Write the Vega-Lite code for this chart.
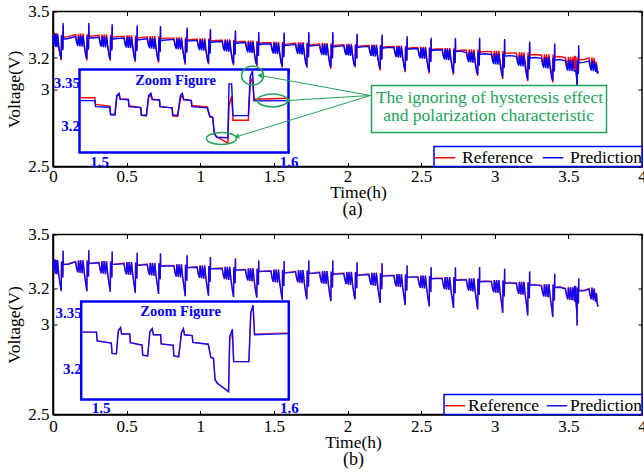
{
"$schema": "https://vega.github.io/schema/vega-lite/v6.json",
"background": "white",
"padding": {"left": 5, "top": 1.5, "right": 0, "bottom": 0},
"datasets": {
"main": [
{"t":0,"r":3.352,"a":3.345,"b":3.350},
{"t":0.006,"r":3.300,"a":3.290,"b":3.300},
{"t":0.010,"r":3.362,"a":3.356,"b":3.362},
{"t":0.016,"r":3.282,"a":3.272,"b":3.282},
{"t":0.020,"r":3.360,"a":3.354,"b":3.360},
{"t":0.027,"r":3.280,"a":3.270,"b":3.280},
{"t":0.031,"r":3.358,"a":3.352,"b":3.358},
{"t":0.039,"r":3.278,"a":3.268,"b":3.278},
{"t":0.049,"r":3.220,"a":3.215,"b":3.220},
{"t":0.056,"r":3.185,"a":3.197,"b":3.185},
{"t":0.058,"r":3.350,"a":3.345,"b":3.350},
{"t":0.060,"r":3.265,"a":3.255,"b":3.265},
{"t":0.067,"r":3.265,"a":3.255,"b":3.265},
{"t":0.069,"r":3.410,"a":3.425,"b":3.410},
{"t":0.070,"r":3.334,"a":3.322,"b":3.334},
{"t":0.104,"r":3.338,"a":3.326,"b":3.335},
{"t":0.153,"r":3.351,"a":3.339,"b":3.348},
{"t":0.161,"r":3.310,"a":3.298,"b":3.310},
{"t":0.169,"r":3.290,"a":3.278,"b":3.290},
{"t":0.173,"r":3.357,"a":3.345,"b":3.357},
{"t":0.183,"r":3.287,"a":3.275,"b":3.287},
{"t":0.188,"r":3.357,"a":3.345,"b":3.357},
{"t":0.198,"r":3.285,"a":3.273,"b":3.285},
{"t":0.204,"r":3.357,"a":3.345,"b":3.357},
{"t":0.213,"r":3.283,"a":3.271,"b":3.283},
{"t":0.223,"r":3.225,"a":3.213,"b":3.225},
{"t":0.230,"r":3.185,"a":3.195,"b":3.185},
{"t":0.232,"r":3.355,"a":3.343,"b":3.355},
{"t":0.234,"r":3.270,"a":3.258,"b":3.270},
{"t":0.241,"r":3.270,"a":3.258,"b":3.270},
{"t":0.243,"r":3.413,"a":3.425,"b":3.413},
{"t":0.244,"r":3.339,"a":3.327,"b":3.339},
{"t":0.278,"r":3.343,"a":3.331,"b":3.340},
{"t":0.312,"r":3.346,"a":3.334,"b":3.343},
{"t":0.320,"r":3.305,"a":3.293,"b":3.305},
{"t":0.328,"r":3.285,"a":3.273,"b":3.285},
{"t":0.332,"r":3.352,"a":3.340,"b":3.352},
{"t":0.342,"r":3.282,"a":3.270,"b":3.282},
{"t":0.347,"r":3.352,"a":3.340,"b":3.352},
{"t":0.357,"r":3.280,"a":3.268,"b":3.280},
{"t":0.363,"r":3.352,"a":3.340,"b":3.352},
{"t":0.372,"r":3.278,"a":3.266,"b":3.278},
{"t":0.382,"r":3.220,"a":3.208,"b":3.220},
{"t":0.389,"r":3.182,"a":3.192,"b":3.182},
{"t":0.391,"r":3.350,"a":3.338,"b":3.350},
{"t":0.393,"r":3.265,"a":3.253,"b":3.265},
{"t":0.400,"r":3.265,"a":3.253,"b":3.265},
{"t":0.402,"r":3.406,"a":3.418,"b":3.406},
{"t":0.403,"r":3.334,"a":3.322,"b":3.334},
{"t":0.437,"r":3.338,"a":3.326,"b":3.335},
{"t":0.482,"r":3.341,"a":3.329,"b":3.338},
{"t":0.490,"r":3.300,"a":3.288,"b":3.300},
{"t":0.498,"r":3.280,"a":3.268,"b":3.280},
{"t":0.502,"r":3.347,"a":3.335,"b":3.347},
{"t":0.512,"r":3.277,"a":3.265,"b":3.277},
{"t":0.517,"r":3.347,"a":3.335,"b":3.347},
{"t":0.527,"r":3.275,"a":3.263,"b":3.275},
{"t":0.533,"r":3.347,"a":3.335,"b":3.347},
{"t":0.542,"r":3.273,"a":3.261,"b":3.273},
{"t":0.552,"r":3.215,"a":3.203,"b":3.215},
{"t":0.559,"r":3.175,"a":3.185,"b":3.175},
{"t":0.561,"r":3.345,"a":3.333,"b":3.345},
{"t":0.563,"r":3.260,"a":3.248,"b":3.260},
{"t":0.570,"r":3.260,"a":3.248,"b":3.260},
{"t":0.572,"r":3.399,"a":3.411,"b":3.399},
{"t":0.573,"r":3.329,"a":3.317,"b":3.329},
{"t":0.607,"r":3.333,"a":3.321,"b":3.330},
{"t":0.640,"r":3.336,"a":3.324,"b":3.333},
{"t":0.648,"r":3.295,"a":3.283,"b":3.295},
{"t":0.656,"r":3.275,"a":3.263,"b":3.275},
{"t":0.660,"r":3.342,"a":3.330,"b":3.342},
{"t":0.670,"r":3.272,"a":3.260,"b":3.272},
{"t":0.675,"r":3.342,"a":3.330,"b":3.342},
{"t":0.685,"r":3.270,"a":3.258,"b":3.270},
{"t":0.691,"r":3.342,"a":3.330,"b":3.342},
{"t":0.700,"r":3.268,"a":3.256,"b":3.268},
{"t":0.710,"r":3.210,"a":3.198,"b":3.210},
{"t":0.717,"r":3.170,"a":3.180,"b":3.170},
{"t":0.719,"r":3.340,"a":3.328,"b":3.340},
{"t":0.721,"r":3.255,"a":3.243,"b":3.255},
{"t":0.728,"r":3.255,"a":3.243,"b":3.255},
{"t":0.730,"r":3.394,"a":3.406,"b":3.394},
{"t":0.731,"r":3.324,"a":3.312,"b":3.324},
{"t":0.765,"r":3.328,"a":3.316,"b":3.325},
{"t":0.821,"r":3.328,"a":3.320,"b":3.325},
{"t":0.829,"r":3.287,"a":3.279,"b":3.287},
{"t":0.837,"r":3.267,"a":3.259,"b":3.267},
{"t":0.841,"r":3.334,"a":3.326,"b":3.334},
{"t":0.851,"r":3.264,"a":3.256,"b":3.264},
{"t":0.856,"r":3.334,"a":3.326,"b":3.334},
{"t":0.866,"r":3.262,"a":3.254,"b":3.262},
{"t":0.872,"r":3.334,"a":3.326,"b":3.334},
{"t":0.881,"r":3.260,"a":3.252,"b":3.260},
{"t":0.891,"r":3.202,"a":3.194,"b":3.202},
{"t":0.898,"r":3.157,"a":3.167,"b":3.157},
{"t":0.900,"r":3.332,"a":3.324,"b":3.332},
{"t":0.902,"r":3.247,"a":3.239,"b":3.247},
{"t":0.909,"r":3.247,"a":3.239,"b":3.247},
{"t":0.911,"r":3.384,"a":3.396,"b":3.384},
{"t":0.912,"r":3.316,"a":3.308,"b":3.316},
{"t":0.946,"r":3.320,"a":3.312,"b":3.317},
{"t":0.979,"r":3.321,"a":3.313,"b":3.318},
{"t":0.987,"r":3.280,"a":3.272,"b":3.280},
{"t":0.995,"r":3.260,"a":3.252,"b":3.260},
{"t":0.999,"r":3.327,"a":3.319,"b":3.327},
{"t":1.009,"r":3.257,"a":3.249,"b":3.257},
{"t":1.014,"r":3.327,"a":3.319,"b":3.327},
{"t":1.024,"r":3.255,"a":3.247,"b":3.255},
{"t":1.030,"r":3.327,"a":3.319,"b":3.327},
{"t":1.039,"r":3.253,"a":3.245,"b":3.253},
{"t":1.049,"r":3.195,"a":3.187,"b":3.195},
{"t":1.056,"r":3.160,"a":3.170,"b":3.160},
{"t":1.058,"r":3.325,"a":3.317,"b":3.325},
{"t":1.060,"r":3.240,"a":3.232,"b":3.240},
{"t":1.067,"r":3.240,"a":3.232,"b":3.240},
{"t":1.069,"r":3.375,"a":3.387,"b":3.375},
{"t":1.070,"r":3.309,"a":3.301,"b":3.309},
{"t":1.104,"r":3.313,"a":3.305,"b":3.310},
{"t":1.149,"r":3.314,"a":3.306,"b":3.311},
{"t":1.157,"r":3.273,"a":3.265,"b":3.273},
{"t":1.165,"r":3.253,"a":3.245,"b":3.253},
{"t":1.169,"r":3.320,"a":3.312,"b":3.320},
{"t":1.179,"r":3.250,"a":3.242,"b":3.250},
{"t":1.184,"r":3.320,"a":3.312,"b":3.320},
{"t":1.194,"r":3.248,"a":3.240,"b":3.248},
{"t":1.200,"r":3.320,"a":3.312,"b":3.320},
{"t":1.209,"r":3.246,"a":3.238,"b":3.246},
{"t":1.219,"r":3.188,"a":3.180,"b":3.188},
{"t":1.226,"r":3.153,"a":3.163,"b":3.153},
{"t":1.228,"r":3.318,"a":3.310,"b":3.318},
{"t":1.230,"r":3.233,"a":3.225,"b":3.233},
{"t":1.237,"r":3.233,"a":3.225,"b":3.233},
{"t":1.239,"r":3.366,"a":3.378,"b":3.366},
{"t":1.240,"r":3.302,"a":3.294,"b":3.302},
{"t":1.274,"r":3.306,"a":3.298,"b":3.303},
{"t":1.307,"r":3.306,"a":3.298,"b":3.303},
{"t":1.315,"r":3.265,"a":3.257,"b":3.265},
{"t":1.323,"r":3.245,"a":3.237,"b":3.245},
{"t":1.327,"r":3.312,"a":3.304,"b":3.312},
{"t":1.337,"r":3.242,"a":3.234,"b":3.242},
{"t":1.342,"r":3.312,"a":3.304,"b":3.312},
{"t":1.352,"r":3.240,"a":3.232,"b":3.240},
{"t":1.358,"r":3.312,"a":3.304,"b":3.312},
{"t":1.367,"r":3.238,"a":3.230,"b":3.238},
{"t":1.377,"r":3.180,"a":3.172,"b":3.180},
{"t":1.384,"r":3.150,"a":3.160,"b":3.150},
{"t":1.386,"r":3.310,"a":3.302,"b":3.310},
{"t":1.388,"r":3.225,"a":3.217,"b":3.225},
{"t":1.395,"r":3.225,"a":3.217,"b":3.225},
{"t":1.397,"r":3.356,"a":3.368,"b":3.356},
{"t":1.398,"r":3.294,"a":3.286,"b":3.294},
{"t":1.432,"r":3.298,"a":3.290,"b":3.295},
{"t":1.480,"r":3.299,"a":3.291,"b":3.296},
{"t":1.488,"r":3.258,"a":3.250,"b":3.258},
{"t":1.496,"r":3.238,"a":3.230,"b":3.238},
{"t":1.500,"r":3.305,"a":3.297,"b":3.305},
{"t":1.510,"r":3.235,"a":3.227,"b":3.235},
{"t":1.515,"r":3.305,"a":3.297,"b":3.305},
{"t":1.525,"r":3.233,"a":3.225,"b":3.233},
{"t":1.531,"r":3.305,"a":3.297,"b":3.305},
{"t":1.540,"r":3.231,"a":3.223,"b":3.231},
{"t":1.550,"r":3.173,"a":3.165,"b":3.173},
{"t":1.557,"r":3.138,"a":3.148,"b":3.138},
{"t":1.559,"r":3.303,"a":3.295,"b":3.303},
{"t":1.561,"r":3.218,"a":3.210,"b":3.218},
{"t":1.568,"r":3.218,"a":3.210,"b":3.218},
{"t":1.570,"r":3.353,"a":3.365,"b":3.353},
{"t":1.571,"r":3.287,"a":3.279,"b":3.287},
{"t":1.605,"r":3.291,"a":3.283,"b":3.288},
{"t":1.647,"r":3.296,"a":3.288,"b":3.293},
{"t":1.655,"r":3.255,"a":3.247,"b":3.255},
{"t":1.663,"r":3.235,"a":3.227,"b":3.235},
{"t":1.667,"r":3.302,"a":3.294,"b":3.302},
{"t":1.677,"r":3.232,"a":3.224,"b":3.232},
{"t":1.682,"r":3.302,"a":3.294,"b":3.302},
{"t":1.692,"r":3.230,"a":3.222,"b":3.230},
{"t":1.698,"r":3.302,"a":3.294,"b":3.302},
{"t":1.707,"r":3.228,"a":3.220,"b":3.228},
{"t":1.717,"r":3.170,"a":3.162,"b":3.170},
{"t":1.724,"r":3.140,"a":3.150,"b":3.140},
{"t":1.726,"r":3.300,"a":3.292,"b":3.300},
{"t":1.728,"r":3.215,"a":3.207,"b":3.215},
{"t":1.735,"r":3.215,"a":3.207,"b":3.215},
{"t":1.737,"r":3.355,"a":3.367,"b":3.355},
{"t":1.738,"r":3.284,"a":3.276,"b":3.284},
{"t":1.772,"r":3.288,"a":3.280,"b":3.285},
{"t":1.810,"r":3.291,"a":3.283,"b":3.288},
{"t":1.818,"r":3.250,"a":3.242,"b":3.250},
{"t":1.826,"r":3.230,"a":3.222,"b":3.230},
{"t":1.830,"r":3.297,"a":3.289,"b":3.297},
{"t":1.840,"r":3.227,"a":3.219,"b":3.227},
{"t":1.845,"r":3.297,"a":3.289,"b":3.297},
{"t":1.855,"r":3.225,"a":3.217,"b":3.225},
{"t":1.861,"r":3.297,"a":3.289,"b":3.297},
{"t":1.870,"r":3.223,"a":3.215,"b":3.223},
{"t":1.880,"r":3.165,"a":3.157,"b":3.165},
{"t":1.887,"r":3.130,"a":3.140,"b":3.130},
{"t":1.889,"r":3.295,"a":3.287,"b":3.295},
{"t":1.891,"r":3.210,"a":3.202,"b":3.210},
{"t":1.898,"r":3.210,"a":3.202,"b":3.210},
{"t":1.900,"r":3.355,"a":3.367,"b":3.355},
{"t":1.901,"r":3.279,"a":3.271,"b":3.279},
{"t":1.935,"r":3.283,"a":3.275,"b":3.280},
{"t":1.975,"r":3.286,"a":3.280,"b":3.283},
{"t":1.983,"r":3.245,"a":3.239,"b":3.245},
{"t":1.991,"r":3.225,"a":3.219,"b":3.225},
{"t":1.995,"r":3.292,"a":3.286,"b":3.292},
{"t":2.005,"r":3.222,"a":3.216,"b":3.222},
{"t":2.010,"r":3.292,"a":3.286,"b":3.292},
{"t":2.020,"r":3.220,"a":3.214,"b":3.220},
{"t":2.026,"r":3.292,"a":3.286,"b":3.292},
{"t":2.035,"r":3.218,"a":3.212,"b":3.218},
{"t":2.045,"r":3.160,"a":3.154,"b":3.160},
{"t":2.052,"r":3.140,"a":3.150,"b":3.140},
{"t":2.054,"r":3.290,"a":3.284,"b":3.290},
{"t":2.056,"r":3.205,"a":3.199,"b":3.205},
{"t":2.063,"r":3.205,"a":3.199,"b":3.205},
{"t":2.065,"r":3.345,"a":3.357,"b":3.345},
{"t":2.066,"r":3.274,"a":3.268,"b":3.274},
{"t":2.100,"r":3.278,"a":3.272,"b":3.275},
{"t":2.145,"r":3.281,"a":3.275,"b":3.278},
{"t":2.153,"r":3.240,"a":3.234,"b":3.240},
{"t":2.161,"r":3.220,"a":3.214,"b":3.220},
{"t":2.165,"r":3.287,"a":3.281,"b":3.287},
{"t":2.175,"r":3.217,"a":3.211,"b":3.217},
{"t":2.180,"r":3.287,"a":3.281,"b":3.287},
{"t":2.190,"r":3.215,"a":3.209,"b":3.215},
{"t":2.196,"r":3.287,"a":3.281,"b":3.287},
{"t":2.205,"r":3.213,"a":3.207,"b":3.213},
{"t":2.215,"r":3.155,"a":3.149,"b":3.155},
{"t":2.222,"r":3.120,"a":3.130,"b":3.120},
{"t":2.224,"r":3.285,"a":3.279,"b":3.285},
{"t":2.226,"r":3.200,"a":3.194,"b":3.200},
{"t":2.233,"r":3.200,"a":3.194,"b":3.200},
{"t":2.235,"r":3.340,"a":3.352,"b":3.340},
{"t":2.236,"r":3.269,"a":3.263,"b":3.269},
{"t":2.270,"r":3.273,"a":3.267,"b":3.270},
{"t":2.315,"r":3.274,"a":3.268,"b":3.271},
{"t":2.323,"r":3.233,"a":3.227,"b":3.233},
{"t":2.331,"r":3.213,"a":3.207,"b":3.213},
{"t":2.335,"r":3.280,"a":3.274,"b":3.280},
{"t":2.345,"r":3.210,"a":3.204,"b":3.210},
{"t":2.350,"r":3.280,"a":3.274,"b":3.280},
{"t":2.360,"r":3.208,"a":3.202,"b":3.208},
{"t":2.366,"r":3.280,"a":3.274,"b":3.280},
{"t":2.375,"r":3.206,"a":3.200,"b":3.206},
{"t":2.385,"r":3.148,"a":3.142,"b":3.148},
{"t":2.392,"r":3.108,"a":3.118,"b":3.108},
{"t":2.394,"r":3.278,"a":3.272,"b":3.278},
{"t":2.396,"r":3.193,"a":3.187,"b":3.193},
{"t":2.403,"r":3.193,"a":3.187,"b":3.193},
{"t":2.405,"r":3.328,"a":3.340,"b":3.328},
{"t":2.406,"r":3.262,"a":3.256,"b":3.262},
{"t":2.440,"r":3.266,"a":3.260,"b":3.263},
{"t":2.478,"r":3.266,"a":3.260,"b":3.263},
{"t":2.486,"r":3.225,"a":3.219,"b":3.225},
{"t":2.494,"r":3.205,"a":3.199,"b":3.205},
{"t":2.498,"r":3.272,"a":3.266,"b":3.272},
{"t":2.508,"r":3.202,"a":3.196,"b":3.202},
{"t":2.513,"r":3.272,"a":3.266,"b":3.272},
{"t":2.523,"r":3.200,"a":3.194,"b":3.200},
{"t":2.529,"r":3.272,"a":3.266,"b":3.272},
{"t":2.538,"r":3.198,"a":3.192,"b":3.198},
{"t":2.548,"r":3.140,"a":3.134,"b":3.140},
{"t":2.555,"r":3.100,"a":3.110,"b":3.100},
{"t":2.557,"r":3.270,"a":3.264,"b":3.270},
{"t":2.559,"r":3.185,"a":3.179,"b":3.185},
{"t":2.566,"r":3.185,"a":3.179,"b":3.185},
{"t":2.568,"r":3.318,"a":3.330,"b":3.318},
{"t":2.569,"r":3.254,"a":3.248,"b":3.254},
{"t":2.603,"r":3.258,"a":3.252,"b":3.255},
{"t":2.643,"r":3.258,"a":3.252,"b":3.255},
{"t":2.651,"r":3.217,"a":3.211,"b":3.217},
{"t":2.659,"r":3.197,"a":3.191,"b":3.197},
{"t":2.663,"r":3.264,"a":3.258,"b":3.264},
{"t":2.673,"r":3.194,"a":3.188,"b":3.194},
{"t":2.678,"r":3.264,"a":3.258,"b":3.264},
{"t":2.688,"r":3.192,"a":3.186,"b":3.192},
{"t":2.694,"r":3.264,"a":3.258,"b":3.264},
{"t":2.703,"r":3.190,"a":3.184,"b":3.190},
{"t":2.713,"r":3.132,"a":3.126,"b":3.132},
{"t":2.720,"r":3.092,"a":3.102,"b":3.092},
{"t":2.722,"r":3.262,"a":3.256,"b":3.262},
{"t":2.724,"r":3.177,"a":3.171,"b":3.177},
{"t":2.731,"r":3.177,"a":3.171,"b":3.177},
{"t":2.733,"r":3.317,"a":3.329,"b":3.317},
{"t":2.734,"r":3.246,"a":3.240,"b":3.246},
{"t":2.768,"r":3.250,"a":3.244,"b":3.247},
{"t":2.807,"r":3.250,"a":3.235,"b":3.247},
{"t":2.815,"r":3.209,"a":3.194,"b":3.209},
{"t":2.823,"r":3.189,"a":3.174,"b":3.189},
{"t":2.827,"r":3.256,"a":3.241,"b":3.256},
{"t":2.837,"r":3.186,"a":3.171,"b":3.186},
{"t":2.842,"r":3.256,"a":3.241,"b":3.256},
{"t":2.852,"r":3.184,"a":3.169,"b":3.184},
{"t":2.858,"r":3.256,"a":3.241,"b":3.256},
{"t":2.867,"r":3.182,"a":3.167,"b":3.182},
{"t":2.877,"r":3.124,"a":3.109,"b":3.124},
{"t":2.884,"r":3.084,"a":3.094,"b":3.084},
{"t":2.886,"r":3.254,"a":3.239,"b":3.254},
{"t":2.888,"r":3.169,"a":3.154,"b":3.169},
{"t":2.895,"r":3.169,"a":3.154,"b":3.169},
{"t":2.897,"r":3.319,"a":3.331,"b":3.319},
{"t":2.898,"r":3.238,"a":3.223,"b":3.238},
{"t":2.932,"r":3.242,"a":3.227,"b":3.239},
{"t":2.977,"r":3.241,"a":3.223,"b":3.238},
{"t":2.985,"r":3.200,"a":3.182,"b":3.200},
{"t":2.993,"r":3.180,"a":3.162,"b":3.180},
{"t":2.997,"r":3.247,"a":3.229,"b":3.247},
{"t":3.007,"r":3.177,"a":3.159,"b":3.177},
{"t":3.012,"r":3.247,"a":3.229,"b":3.247},
{"t":3.022,"r":3.175,"a":3.157,"b":3.175},
{"t":3.028,"r":3.247,"a":3.229,"b":3.247},
{"t":3.037,"r":3.173,"a":3.155,"b":3.173},
{"t":3.047,"r":3.115,"a":3.097,"b":3.115},
{"t":3.054,"r":3.065,"a":3.075,"b":3.065},
{"t":3.056,"r":3.245,"a":3.227,"b":3.245},
{"t":3.058,"r":3.160,"a":3.142,"b":3.160},
{"t":3.065,"r":3.160,"a":3.142,"b":3.160},
{"t":3.067,"r":3.310,"a":3.322,"b":3.310},
{"t":3.068,"r":3.229,"a":3.211,"b":3.229},
{"t":3.102,"r":3.233,"a":3.215,"b":3.230},
{"t":3.147,"r":3.231,"a":3.211,"b":3.228},
{"t":3.155,"r":3.190,"a":3.170,"b":3.190},
{"t":3.163,"r":3.170,"a":3.150,"b":3.170},
{"t":3.167,"r":3.237,"a":3.217,"b":3.237},
{"t":3.177,"r":3.167,"a":3.147,"b":3.167},
{"t":3.182,"r":3.237,"a":3.217,"b":3.237},
{"t":3.192,"r":3.165,"a":3.145,"b":3.165},
{"t":3.198,"r":3.237,"a":3.217,"b":3.237},
{"t":3.207,"r":3.163,"a":3.143,"b":3.163},
{"t":3.217,"r":3.105,"a":3.085,"b":3.105},
{"t":3.224,"r":3.050,"a":3.060,"b":3.050},
{"t":3.226,"r":3.235,"a":3.215,"b":3.235},
{"t":3.228,"r":3.150,"a":3.130,"b":3.150},
{"t":3.235,"r":3.150,"a":3.130,"b":3.150},
{"t":3.237,"r":3.295,"a":3.307,"b":3.295},
{"t":3.238,"r":3.219,"a":3.199,"b":3.219},
{"t":3.272,"r":3.223,"a":3.203,"b":3.220},
{"t":3.317,"r":3.218,"a":3.198,"b":3.215},
{"t":3.325,"r":3.177,"a":3.157,"b":3.177},
{"t":3.333,"r":3.157,"a":3.137,"b":3.157},
{"t":3.337,"r":3.224,"a":3.204,"b":3.224},
{"t":3.347,"r":3.154,"a":3.134,"b":3.154},
{"t":3.352,"r":3.224,"a":3.204,"b":3.224},
{"t":3.362,"r":3.152,"a":3.132,"b":3.152},
{"t":3.368,"r":3.224,"a":3.204,"b":3.224},
{"t":3.377,"r":3.150,"a":3.130,"b":3.150},
{"t":3.387,"r":3.092,"a":3.072,"b":3.092},
{"t":3.394,"r":3.042,"a":3.052,"b":3.042},
{"t":3.396,"r":3.222,"a":3.202,"b":3.222},
{"t":3.398,"r":3.137,"a":3.117,"b":3.137},
{"t":3.405,"r":3.137,"a":3.117,"b":3.137},
{"t":3.407,"r":3.282,"a":3.294,"b":3.282},
{"t":3.408,"r":3.206,"a":3.186,"b":3.206},
{"t":3.442,"r":3.210,"a":3.190,"b":3.207},
{"t":3.480,"r":3.201,"a":3.181,"b":3.198},
{"t":3.488,"r":3.160,"a":3.140,"b":3.160},
{"t":3.496,"r":3.140,"a":3.120,"b":3.140},
{"t":3.500,"r":3.207,"a":3.187,"b":3.207},
{"t":3.510,"r":3.137,"a":3.117,"b":3.137},
{"t":3.515,"r":3.207,"a":3.187,"b":3.207},
{"t":3.525,"r":3.135,"a":3.115,"b":3.135},
{"t":3.531,"r":3.207,"a":3.187,"b":3.207},
{"t":3.540,"r":3.133,"a":3.113,"b":3.133},
{"t":3.543,"r":3.215,"a":3.120,"b":3.215},
{"t":3.546,"r":3.125,"a":3.118,"b":3.125},
{"t":3.549,"r":3.212,"a":3.115,"b":3.212},
{"t":3.552,"r":3.120,"a":3.110,"b":3.120},
{"t":3.557,"r":3.075,"a":3.060,"b":3.075},
{"t":3.559,"r":2.995,"a":3.025,"b":2.995},
{"t":3.561,"r":3.205,"a":3.185,"b":3.205},
{"t":3.563,"r":3.120,"a":3.100,"b":3.120},
{"t":3.568,"r":3.120,"a":3.100,"b":3.120},
{"t":3.570,"r":3.255,"a":3.282,"b":3.255},
{"t":3.571,"r":3.189,"a":3.169,"b":3.189},
{"t":3.605,"r":3.190,"a":3.172,"b":3.187},
{"t":3.640,"r":3.200,"a":3.182,"b":3.197},
{"t":3.648,"r":3.160,"a":3.140,"b":3.160},
{"t":3.656,"r":3.140,"a":3.120,"b":3.140},
{"t":3.660,"r":3.205,"a":3.185,"b":3.205},
{"t":3.670,"r":3.135,"a":3.115,"b":3.135},
{"t":3.675,"r":3.200,"a":3.180,"b":3.200},
{"t":3.685,"r":3.125,"a":3.110,"b":3.125},
{"t":3.690,"r":3.175,"a":3.160,"b":3.175},
{"t":3.697,"r":3.110,"a":3.100,"b":3.110},
{"t":3.703,"r":3.100,"a":3.115,"b":3.100}
],
"zoom": [
{"t":1.4902,"r":3.297,"a":3.287,"b":3.297},
{"t":1.4978,"r":3.297,"a":3.287,"b":3.297},
{"t":1.4982,"r":3.274,"a":3.266,"b":3.274},
{"t":1.5057,"r":3.268,"a":3.264,"b":3.268},
{"t":1.5061,"r":3.241,"a":3.238,"b":3.241},
{"t":1.5084,"r":3.240,"a":3.237,"b":3.240},
{"t":1.5094,"r":3.300,"a":3.305,"b":3.300},
{"t":1.5106,"r":3.309,"a":3.312,"b":3.309},
{"t":1.5112,"r":3.292,"a":3.292,"b":3.292},
{"t":1.5155,"r":3.292,"a":3.290,"b":3.292},
{"t":1.5158,"r":3.269,"a":3.266,"b":3.269},
{"t":1.5220,"r":3.263,"a":3.263,"b":3.263},
{"t":1.5224,"r":3.236,"a":3.236,"b":3.236},
{"t":1.5250,"r":3.234,"a":3.236,"b":3.234},
{"t":1.5262,"r":3.298,"a":3.305,"b":3.298},
{"t":1.5274,"r":3.306,"a":3.312,"b":3.306},
{"t":1.5281,"r":3.290,"a":3.292,"b":3.290},
{"t":1.5319,"r":3.290,"a":3.289,"b":3.290},
{"t":1.5322,"r":3.266,"a":3.266,"b":3.266},
{"t":1.5386,"r":3.262,"a":3.262,"b":3.262},
{"t":1.5389,"r":3.234,"a":3.236,"b":3.234},
{"t":1.5415,"r":3.232,"a":3.236,"b":3.232},
{"t":1.5430,"r":3.296,"a":3.305,"b":3.296},
{"t":1.5440,"r":3.306,"a":3.312,"b":3.306},
{"t":1.5446,"r":3.290,"a":3.292,"b":3.290},
{"t":1.5487,"r":3.288,"a":3.286,"b":3.288},
{"t":1.5490,"r":3.270,"a":3.266,"b":3.270},
{"t":1.5572,"r":3.265,"a":3.262,"b":3.265},
{"t":1.5580,"r":3.245,"a":3.240,"b":3.245},
{"t":1.5586,"r":3.230,"a":3.232,"b":3.230},
{"t":1.5600,"r":3.228,"a":3.230,"b":3.228},
{"t":1.5608,"r":3.172,"a":3.178,"b":3.172},
{"t":1.5620,"r":3.162,"a":3.160,"b":3.162},
{"t":1.5680,"r":3.140,"a":3.158,"b":3.140},
{"t":1.5686,"r":3.270,"a":3.345,"b":3.285},
{"t":1.5700,"r":3.302,"a":3.345,"b":3.305},
{"t":1.5707,"r":3.219,"a":3.235,"b":3.219},
{"t":1.5788,"r":3.219,"a":3.235,"b":3.219},
{"t":1.5798,"r":3.345,"a":3.370,"b":3.350},
{"t":1.5810,"r":3.368,"a":3.390,"b":3.368},
{"t":1.5818,"r":3.292,"a":3.286,"b":3.290},
{"t":1.6000,"r":3.295,"a":3.287,"b":3.293}
]
},
"vconcat": [
{
"width": 589, "height": 155,
"title": {"text": "(a)", "orient": "bottom", "fontSize": 18, "font": "Liberation Serif", "fontWeight": "normal", "offset": 0, "dx": 5, "color": "black"},
"layer": [
{"data": {"name": "main"}, "mark": {"type": "line", "strokeWidth": 1.4},
"encoding": {
"x": {"field": "t", "type": "quantitative", "scale": {"domain": [0, 4], "nice": false}, "axis": {"values": [0, 0.5, 1, 1.5, 2, 2.5, 3, 3.5, 4], "format": ".3~g", "title": "Time(h)", "tickSize": -4, "labelPadding": 6, "titlePadding": -1, "titleX": 305}},
"y": {"field": "r", "type": "quantitative", "scale": {"domain": [2.5, 3.5], "nice": false, "zero": false}, "axis": {"values": [2.5, 3, 3.2, 3.5], "format": ".3~g", "title": "Voltage(V)", "tickSize": -4, "labelPadding": 8, "titlePadding": 4}},
"color": {"datum": "Reference", "scale": {"domain": ["Reference", "Prediction"], "range": ["#ff0000", "#0000ff"]},
"legend": {"title": null, "orient": "bottom-right", "direction": "horizontal", "offset": 0, "padding": 0, "strokeColor": "#0000ff", "fillColor": "white", "symbolType": "stroke", "symbolSize": 420, "symbolStrokeWidth": 1.5, "labelFont": "Liberation Serif", "labelFontSize": 17.5, "labelColor": "black", "labelOffset": 6, "columnPadding": 6, "labelLimit": 300}}
}},
{"data": {"name": "main"}, "mark": {"type": "line", "strokeWidth": 1.4},
"encoding": {
"x": {"field": "t", "type": "quantitative", "scale": {"domain": [0, 4], "nice": false}, "axis": {"orient": "top", "values": [0, 0.5, 1, 1.5, 2, 2.5, 3, 3.5, 4], "labels": false, "domain": false, "tickSize": -4, "title": null}},
"y": {"field": "a", "type": "quantitative", "scale": {"domain": [2.5, 3.5], "nice": false, "zero": false}, "axis": {"orient": "right", "values": [2.5, 3, 3.2, 3.5], "labels": false, "domain": false, "tickSize": -4, "title": null}},
"color": {"datum": "Prediction"}
}},
{"data": {"values": [{}]},
"mark": {"type": "rect", "fill": "white", "stroke": "#0000ff", "strokeWidth": 2.5},
"encoding": {
"x": {"datum": 1.4897, "type": "quantitative", "scale": {"domain": [1.4897, 1.6], "range": [26.5, 235.5], "nice": false, "zero": false}, "axis": {"orient": "bottom", "offset": -14, "values": [1.5, 1.6], "format": ".3~g", "domain": false, "tickSize": -4, "tickColor": "#0000ff", "labelPadding": 6, "labelColor": "#0000ff", "labelFontWeight": "bold", "labelFontSize": 15, "title": null}},
"x2": {"datum": 1.6},
"y": {"datum": 3.107, "type": "quantitative", "scale": {"domain": [3.107, 3.395], "range": [141, 58], "nice": false, "zero": false}, "axis": {"orient": "left", "offset": -26.5, "values": [3.2, 3.35], "format": ".3~g", "domain": false, "tickSize": -4, "tickColor": "#0000ff", "labelPadding": 4, "labelColor": "#0000ff", "labelFontWeight": "bold", "labelFontSize": 15, "title": null}},
"y2": {"datum": 3.395}
}},
{"data": {"name": "zoom"}, "mark": {"type": "line", "strokeWidth": 1.4},
"encoding": {
"x": {"field": "t", "type": "quantitative", "scale": {"domain": [1.4897, 1.6], "range": [26.5, 235.5], "nice": false, "zero": false}, "axis": {"orient": "top", "offset": -58, "values": [1.5, 1.6], "labels": false, "domain": false, "tickSize": -4, "tickColor": "#0000ff", "title": null}},
"y": {"field": "r", "type": "quantitative", "scale": {"domain": [3.107, 3.395], "range": [141, 58], "nice": false, "zero": false}, "axis": {"orient": "right", "offset": -353.5, "values": [3.2, 3.35], "labels": false, "domain": false, "tickSize": -4, "tickColor": "#0000ff", "title": null}},
"color": {"datum": "Reference"}
}},
{"data": {"name": "zoom"}, "mark": {"type": "line", "strokeWidth": 1.4},
"encoding": {
"x": {"field": "t", "type": "quantitative", "scale": {"domain": [1.4897, 1.6], "range": [26.5, 235.5], "nice": false, "zero": false}, "axis": null},
"y": {"field": "a", "type": "quantitative", "scale": {"domain": [3.107, 3.395], "range": [141, 58], "nice": false, "zero": false}, "axis": null},
"color": {"datum": "Prediction"}
}},
{"data": {"values": [{}]}, "mark": {"type": "rect", "fill": "white", "stroke": "#22a35a", "strokeWidth": 1.5},
"encoding": {
"x": {"datum": 2.163, "type": "quantitative", "scale": {"domain": [0, 4], "nice": false}, "axis": null},
"x2": {"datum": 3.759},
"y": {"datum": 3.0226, "type": "quantitative", "scale": {"domain": [2.5, 3.5], "nice": false, "zero": false}, "axis": null},
"y2": {"datum": 2.719}
}},
{"data": {"values": [{}]}, "mark": {"type": "text", "text": "The ignoring of hysteresis effect", "font": "Liberation Serif", "fontSize": 17.5, "color": "#22a35a"},
"encoding": {
"x": {"datum": 2.964, "type": "quantitative", "scale": {"domain": [0, 4], "nice": false}, "axis": null},
"y": {"datum": 2.945, "type": "quantitative", "scale": {"domain": [2.5, 3.5], "nice": false, "zero": false}, "axis": null}
}},
{"data": {"values": [{}]}, "mark": {"type": "text", "text": "and polarization characteristic", "font": "Liberation Serif", "fontSize": 17.5, "color": "#22a35a"},
"encoding": {
"x": {"datum": 2.958, "type": "quantitative", "scale": {"domain": [0, 4], "nice": false}, "axis": null},
"y": {"datum": 2.823, "type": "quantitative", "scale": {"domain": [2.5, 3.5], "nice": false, "zero": false}, "axis": null}
}},
{"data": {"values": [{}]}, "mark": {"type": "rule", "color": "#22a35a", "strokeWidth": 1},
"encoding": {
"x": {"datum": 2.156, "type": "quantitative", "scale": {"domain": [0, 4], "nice": false}, "axis": null},
"y": {"datum": 2.958, "type": "quantitative", "scale": {"domain": [2.5, 3.5], "nice": false, "zero": false}, "axis": null},
"x2": {"datum": 1.409}, "y2": {"datum": 3.087}
}},
{"data": {"values": [{}]}, "mark": {"type": "rule", "color": "#22a35a", "strokeWidth": 1},
"encoding": {
"x": {"datum": 2.156, "type": "quantitative", "scale": {"domain": [0, 4], "nice": false}, "axis": null},
"y": {"datum": 2.958, "type": "quantitative", "scale": {"domain": [2.5, 3.5], "nice": false, "zero": false}, "axis": null},
"x2": {"datum": 1.600}, "y2": {"datum": 2.926}
}},
{"data": {"values": [{}]}, "mark": {"type": "rule", "color": "#22a35a", "strokeWidth": 1},
"encoding": {
"x": {"datum": 2.156, "type": "quantitative", "scale": {"domain": [0, 4], "nice": false}, "axis": null},
"y": {"datum": 2.958, "type": "quantitative", "scale": {"domain": [2.5, 3.5], "nice": false, "zero": false}, "axis": null},
"x2": {"datum": 1.253}, "y2": {"datum": 2.694}
}},
{"data": {"values": [{}]}, "mark": {"type": "point", "shape": "triangle", "filled": true, "color": "#22a35a", "size": 30, "angle": 280, "opacity": 1},
"encoding": {
"x": {"datum": 1.409, "type": "quantitative", "scale": {"domain": [0, 4], "nice": false}, "axis": null},
"y": {"datum": 3.087, "type": "quantitative", "scale": {"domain": [2.5, 3.5], "nice": false, "zero": false}, "axis": null}
}},
{"data": {"values": [{}]}, "mark": {"type": "point", "shape": "triangle", "filled": true, "color": "#22a35a", "size": 30, "angle": 266, "opacity": 1},
"encoding": {
"x": {"datum": 1.600, "type": "quantitative", "scale": {"domain": [0, 4], "nice": false}, "axis": null},
"y": {"datum": 2.926, "type": "quantitative", "scale": {"domain": [2.5, 3.5], "nice": false, "zero": false}, "axis": null}
}},
{"data": {"values": [{}]}, "mark": {"type": "point", "shape": "triangle", "filled": true, "color": "#22a35a", "size": 30, "angle": 253, "opacity": 1},
"encoding": {
"x": {"datum": 1.253, "type": "quantitative", "scale": {"domain": [0, 4], "nice": false}, "axis": null},
"y": {"datum": 2.694, "type": "quantitative", "scale": {"domain": [2.5, 3.5], "nice": false, "zero": false}, "axis": null}
}},
{"data": {"values": [{}]}, "mark": {"type": "point", "shape": "M-1,0A1,0.86,0,1,0,1,0A1,0.86,0,1,0,-1,0Z", "filled": false, "stroke": "#22a35a", "strokeWidth": 1.5, "size": 484, "opacity": 1},
"encoding": {
"x": {"datum": 1.355, "type": "quantitative", "scale": {"domain": [0, 4], "nice": false}, "axis": null},
"y": {"datum": 3.087, "type": "quantitative", "scale": {"domain": [2.5, 3.5], "nice": false, "zero": false}, "axis": null}
}},
{"data": {"values": [{}]}, "mark": {"type": "point", "shape": "M-1,0A1,0.43,0,1,0,1,0A1,0.43,0,1,0,-1,0Z", "filled": false, "stroke": "#22a35a", "strokeWidth": 1.5, "size": 900, "opacity": 1},
"encoding": {
"x": {"datum": 1.491, "type": "quantitative", "scale": {"domain": [0, 4], "nice": false}, "axis": null},
"y": {"datum": 2.926, "type": "quantitative", "scale": {"domain": [2.5, 3.5], "nice": false, "zero": false}, "axis": null}
}},
{"data": {"values": [{}]}, "mark": {"type": "point", "shape": "M-1,0A1,0.4,0,1,0,1,0A1,0.4,0,1,0,-1,0Z", "filled": false, "stroke": "#22a35a", "strokeWidth": 1.5, "size": 900, "opacity": 1},
"encoding": {
"x": {"datum": 1.144, "type": "quantitative", "scale": {"domain": [0, 4], "nice": false}, "axis": null},
"y": {"datum": 2.681, "type": "quantitative", "scale": {"domain": [2.5, 3.5], "nice": false, "zero": false}, "axis": null}
}},
{"data": {"values": [{}]},
"mark": {"type": "text", "text": "Zoom Figure", "font": "Liberation Serif", "fontWeight": "bold", "fontSize": 14.5, "color": "#0000ff", "align": "center", "baseline": "middle"},
"encoding": {
"x": {"datum": 0.832, "type": "quantitative", "scale": {"domain": [0, 4], "nice": false}, "axis": null},
"y": {"datum": 3.0516, "type": "quantitative", "scale": {"domain": [2.5, 3.5], "nice": false, "zero": false}, "axis": null}
}}
],
"resolve": {"scale": {"x": "independent", "y": "independent"}}
},
{
"width": 589, "height": 180,
"title": {"text": "(b)", "orient": "bottom", "fontSize": 18, "font": "Liberation Serif", "fontWeight": "normal", "offset": 0, "dx": 6, "color": "black"},
"layer": [
{"data": {"name": "main"}, "mark": {"type": "line", "strokeWidth": 1.4, "opacity": 0.7},
"encoding": {
"x": {"field": "t", "type": "quantitative", "scale": {"domain": [0, 4], "nice": false}, "axis": {"values": [0, 0.5, 1, 1.5, 2, 2.5, 3, 3.5, 4], "format": ".3~g", "title": "Time(h)", "tickSize": -4, "labelPadding": 8, "titlePadding": -1, "titleX": 300}},
"y": {"field": "r", "type": "quantitative", "scale": {"domain": [2.5, 3.5], "nice": false, "zero": false}, "axis": {"values": [2.5, 3, 3.2, 3.5], "format": ".3~g", "title": "Voltage(V)", "tickSize": -4, "labelPadding": 8, "titlePadding": 4}},
"color": {"datum": "Reference", "scale": {"domain": ["Reference", "Prediction"], "range": ["#ff0000", "#0000ff"]},
"legend": {"title": null, "orient": "bottom-right", "direction": "horizontal", "offset": 0, "padding": 0, "strokeColor": "#0000ff", "fillColor": "white", "symbolType": "stroke", "symbolSize": 420, "symbolStrokeWidth": 1.5, "symbolOpacity": 0.55, "labelFont": "Liberation Serif", "labelFontSize": 17.5, "labelColor": "black", "labelOffset": 2, "columnPadding": 4, "labelLimit": 300}}
}},
{"data": {"name": "main"}, "mark": {"type": "line", "strokeWidth": 1.4, "opacity": 0.92},
"encoding": {
"x": {"field": "t", "type": "quantitative", "scale": {"domain": [0, 4], "nice": false}, "axis": {"orient": "top", "values": [0, 0.5, 1, 1.5, 2, 2.5, 3, 3.5, 4], "labels": false, "domain": false, "tickSize": -4, "title": null}},
"y": {"field": "b", "type": "quantitative", "scale": {"domain": [2.5, 3.5], "nice": false, "zero": false}, "axis": {"orient": "right", "values": [2.5, 3, 3.2, 3.5], "labels": false, "domain": false, "tickSize": -4, "title": null}},
"color": {"datum": "Prediction"}
}},
{"data": {"values": [{}]},
"mark": {"type": "rect", "fill": "white", "stroke": "#0000ff", "strokeWidth": 2.5},
"encoding": {
"x": {"datum": 1.4897, "type": "quantitative", "scale": {"domain": [1.4897, 1.6], "range": [28.2, 235.8], "nice": false, "zero": false}, "axis": {"orient": "bottom", "offset": -15, "values": [1.5, 1.6], "format": ".3~g", "domain": false, "tickSize": -4, "tickColor": "#0000ff", "labelPadding": 5, "labelColor": "#0000ff", "labelFontWeight": "bold", "labelFontSize": 15, "title": null}},
"x2": {"datum": 1.6},
"y": {"datum": 3.119, "type": "quantitative", "scale": {"domain": [3.119, 3.378], "range": [165, 67], "nice": false, "zero": false}, "axis": {"orient": "left", "offset": -28.2, "values": [3.2, 3.35], "format": ".3~g", "domain": false, "tickSize": -4, "tickColor": "#0000ff", "labelPadding": 4, "labelColor": "#0000ff", "labelFontWeight": "bold", "labelFontSize": 15, "title": null}},
"y2": {"datum": 3.378}
}},
{"data": {"name": "zoom"}, "mark": {"type": "line", "strokeWidth": 1.4, "opacity": 0.7},
"encoding": {
"x": {"field": "t", "type": "quantitative", "scale": {"domain": [1.4897, 1.6], "range": [28.2, 235.8], "nice": false, "zero": false}, "axis": {"orient": "top", "offset": -67, "values": [1.5, 1.6], "labels": false, "domain": false, "tickSize": -4, "tickColor": "#0000ff", "title": null}},
"y": {"field": "r", "type": "quantitative", "scale": {"domain": [3.119, 3.378], "range": [165, 67], "nice": false, "zero": false}, "axis": {"orient": "right", "offset": -353.2, "values": [3.2, 3.35], "labels": false, "domain": false, "tickSize": -4, "tickColor": "#0000ff", "title": null}},
"color": {"datum": "Reference"}
}},
{"data": {"name": "zoom"}, "mark": {"type": "line", "strokeWidth": 1.4, "opacity": 0.92},
"encoding": {
"x": {"field": "t", "type": "quantitative", "scale": {"domain": [1.4897, 1.6], "range": [28.2, 235.8], "nice": false, "zero": false}, "axis": null},
"y": {"field": "b", "type": "quantitative", "scale": {"domain": [3.119, 3.378], "range": [165, 67], "nice": false, "zero": false}, "axis": null},
"color": {"datum": "Prediction"}
}},
{"data": {"values": [{}]},
"mark": {"type": "text", "text": "Zoom Figure", "font": "Liberation Serif", "fontWeight": "bold", "fontSize": 14.5, "color": "#0000ff"},
"encoding": {
"x": {"datum": 1.5425, "type": "quantitative", "scale": {"domain": [1.4897, 1.6], "range": [28.2, 235.8], "nice": false, "zero": false}, "axis": null},
"y": {"datum": 3.349, "type": "quantitative", "scale": {"domain": [3.119, 3.378], "range": [165, 67], "nice": false, "zero": false}, "axis": null}
}}
],
"resolve": {"scale": {"x": "independent", "y": "independent"}}
}
],
"spacing": 68,
"bounds": "flush",
"resolve": {"scale": {"color": "independent"}},
"config": {
"font": "Liberation Serif",
"view": {"stroke": "black", "strokeWidth": 1.5},
"legend": {"strokeWidth": 1.5},
"axis": {"grid": false, "domainColor": "black", "domainWidth": 1.5, "tickColor": "black", "labelColor": "black", "titleColor": "black", "labelFont": "Liberation Serif", "titleFont": "Liberation Serif", "labelFontSize": 17, "titleFontSize": 17.5, "titleFontWeight": "normal", "labelFlush": false, "labelOverlap": false}
}
}
